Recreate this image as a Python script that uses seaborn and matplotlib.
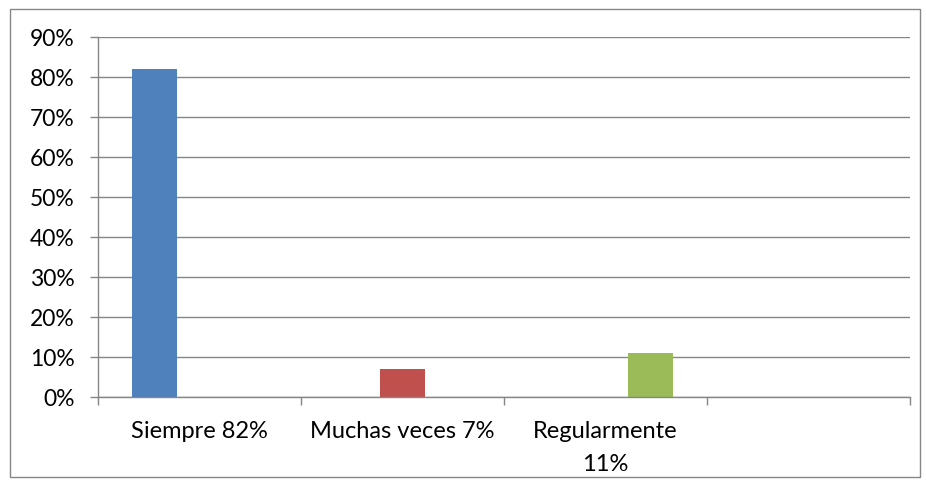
import matplotlib
matplotlib.use("Agg")
import matplotlib.pyplot as plt
import seaborn as sns
import pandas as pd
from matplotlib.patches import Rectangle
from matplotlib.ticker import FixedLocator, PercentFormatter

categories = ["Siempre 82%", "Muchas veces 7%", "Regularmente\n11%", ""]
series = ["Serie 1", "Serie 2", "Serie 3"]
bar_categories = ["Siempre 82%", "Muchas veces 7%", "Regularmente\n11%"]
bar_series = ["Serie 1", "Serie 2", "Serie 3"]
bar_values = [0.82, 0.07, 0.11]
colors = ["#4F81BD", "#C0504D", "#9BBB59"]
yticks = [0.0, 0.1, 0.2, 0.3, 0.4, 0.5, 0.6, 0.7, 0.8, 0.9]

df = pd.DataFrame({"cat": bar_categories, "serie": bar_series, "val": bar_values})

sns.set_theme(style="white")
plt.rcParams["font.family"] = ["Lato", "DejaVu Sans"]

fig = plt.figure(figsize=(9.26, 4.89), dpi=100)
ax = fig.add_axes([98 / 926, 1 - 398 / 489, (910 - 98) / 926, (398 - 38) / 489])

sns.barplot(data=df, x="cat", y="val", hue="serie", order=categories,
            hue_order=series, palette=colors, width=0.667, dodge=True,
            saturation=1, linewidth=0, legend=False, ax=ax)

ax.set_xlim(-0.5, 3.5)
ax.set_ylim(0, 0.9)
ax.set_yticks(yticks)
ax.yaxis.set_major_formatter(PercentFormatter(1.0, decimals=0))
ax.yaxis.grid(True, color="#868686", linewidth=1)
ax.set_axisbelow(True)
ax.set_xlabel("")
ax.set_ylabel("")

for s in ["top", "right"]:
    ax.spines[s].set_visible(False)
for s in ["left", "bottom"]:
    ax.spines[s].set_color("#868686")
    ax.spines[s].set_linewidth(1)

ax.xaxis.set_minor_locator(FixedLocator([-0.5, 0.5, 1.5, 2.5, 3.5]))
ax.tick_params(axis="x", which="major", length=0, pad=16.5, labelsize=17, labelcolor="black")
ax.tick_params(axis="x", which="minor", length=6, width=1, color="#868686", direction="out", bottom=True)
ax.tick_params(axis="y", which="major", length=6, width=1, color="#868686", direction="out", left=True,
               labelsize=16.5, labelcolor="black", pad=11)
for lbl in ax.get_xticklabels():
    lbl.set_ha("center")
    lbl.set_multialignment("center")
    lbl.set_va("top")
    lbl.set_linespacing(1.7)

fig.patches.append(Rectangle((10 / 926, 1 - 478 / 489), 910 / 926, 468 / 489,
                             transform=fig.transFigure, fill=False,
                             edgecolor="#868686", linewidth=1))

fig.savefig("out.png", dpi=100)
